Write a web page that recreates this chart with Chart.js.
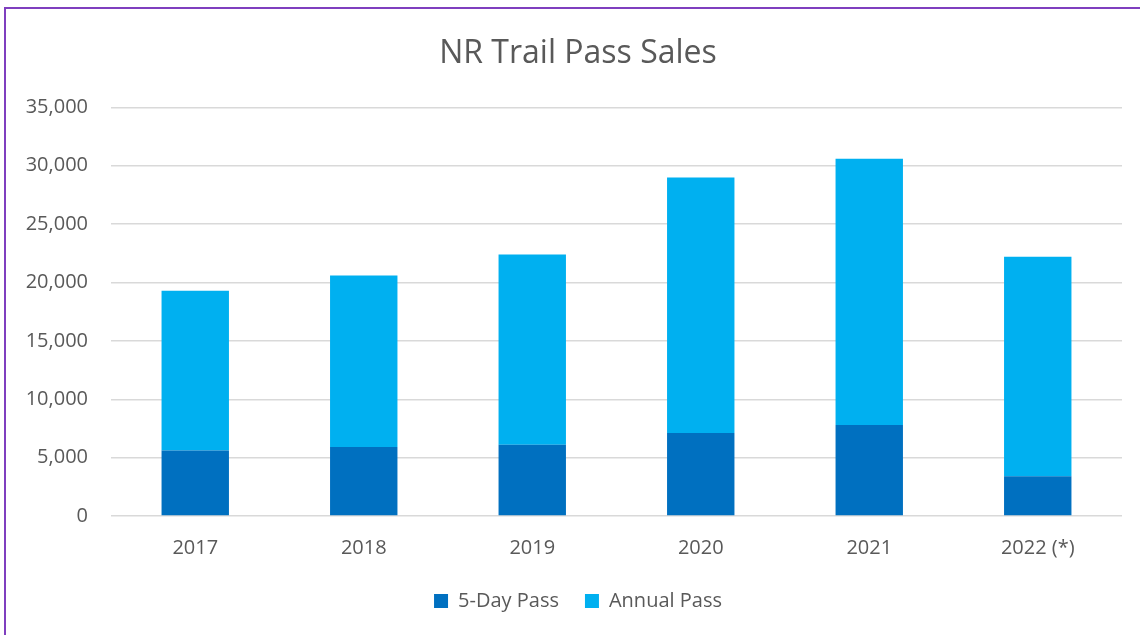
<!DOCTYPE html>
<html lang="en">
<head>
    <meta charset="UTF-8">
    <title>NR Trail Pass Sales</title>
    <script src="https://cdn.jsdelivr.net/npm/chart.js"></script>
    <style>
        html, body { margin: 0; padding: 0; background: #fff; overflow: hidden; }
        #frame {
            position: absolute; left: 4px; top: 7px;
            width: 2000px; height: 2000px;
            border: 2px solid #7F3FBF;
            pointer-events: none;
        }
        #wrap { position: absolute; left: 0; top: 0; width: 1140px; height: 635px; }
    </style>
</head>
<body>
    <div id="wrap"><canvas id="passChart"></canvas></div>
    <div id="frame"></div>

    <script>
        // Data
        const years = ['2017', '2018', '2019', '2020', '2021', '2022 (*)'];
        const fiveDayPass = [5600, 5900, 6100, 7100, 7800, 3400];
        const annualPass = [13700, 14700, 16300, 21900, 22800, 18800];
        const yTicks = [0, 5000, 10000, 15000, 20000, 25000, 30000, 35000];

        const textColor = '#595959';
        Chart.defaults.font.family = "'Open Sans', sans-serif";
        Chart.defaults.color = textColor;

        // title and legend sit a bit right of the canvas centre in the original
        const shiftCentre = {
            id: 'shiftCentre',
            afterLayout(chart) {
                [chart.titleBlock, chart.legend].forEach(b => {
                    if (b) { b.left += 17; b.right += 17; }
                });
            }
        };

        const ctx = document.getElementById('passChart').getContext('2d');
        const passChart = new Chart(ctx, {
            type: 'bar',
            data: {
                labels: years,
                datasets: [{
                    label: '5-Day Pass',
                    data: fiveDayPass,
                    backgroundColor: '#0070C0',
                    categoryPercentage: 1,
                    barPercentage: 0.4
                }, {
                    label: 'Annual Pass',
                    data: annualPass,
                    backgroundColor: '#00B0F0',
                    categoryPercentage: 1,
                    barPercentage: 0.4
                }]
            },
            options: {
                responsive: true,
                maintainAspectRatio: false,
                animation: false,
                layout: { padding: { left: 0, right: 18, top: 0, bottom: 14 } },
                scales: {
                    x: {
                        stacked: true,
                        grid: { display: false, drawTicks: false },
                        border: { display: false },
                        ticks: { padding: 20, font: { size: 20 }, color: textColor },
                        afterFit: (scale) => { scale.height = 49; }
                    },
                    y: {
                        stacked: true,
                        min: 0,
                        max: 35000,
                        afterBuildTicks: (scale) => { scale.ticks = yTicks.map(v => ({ value: v })); },
                        grid: { color: '#D9D9D9', lineWidth: 1.5, drawTicks: false },
                        border: { display: false },
                        ticks: {
                            padding: 23,
                            font: { size: 20 },
                            color: textColor,
                            callback: (v) => v.toLocaleString('en-US')
                        },
                        afterFit: (scale) => { scale.width = 111; }
                    }
                },
                plugins: {
                    legend: {
                        position: 'bottom',
                        labels: {
                            boxWidth: 14,
                            boxHeight: 14,
                            padding: 26,
                            font: { size: 20 },
                            color: textColor
                        }
                    },
                    title: {
                        display: true,
                        text: 'NR Trail Pass Sales',
                        color: textColor,
                        font: { size: 32, weight: 'normal' },
                        padding: { top: 35, bottom: 34 }
                    },
                    tooltip: { enabled: false }
                }
            },
            plugins: [shiftCentre]
        });
    </script>
</body>
</html>
